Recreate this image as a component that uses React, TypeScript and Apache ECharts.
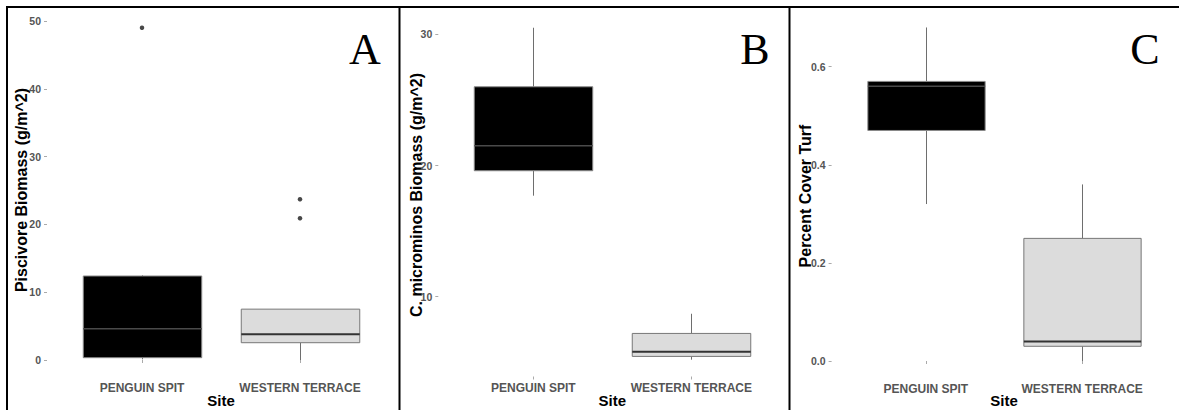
import React, { useEffect, useRef } from "react";
import * as echarts from "echarts";

// ---- data ----
const sites = ["PENGUIN SPIT", "WESTERN TERRACE"];
const boxFills = ["#000000", "#dcdcdc"];
const medianColors = ["#4a4a4a", "#333333"];

// [min, q1, median, q3, max] per site
const piscivoreBoxes = [
  [0.1, 0.34, 4.62, 12.39, 12.5],
  [0, 2.55, 3.79, 7.5, 7.5],
];
const piscivoreOutliers = [
  [0, 49.0],
  [1, 23.7],
  [1, 20.9],
];
const microminosBoxes = [
  [17.7, 19.6, 21.5, 26.0, 30.5],
  [5.2, 5.45, 5.8, 7.2, 8.7],
];
const turfBoxes = [
  [0.32, 0.47, 0.56, 0.57, 0.68],
  [0.0, 0.03, 0.04, 0.25, 0.36],
];

// y tick ranges: [min, max, interval]
const piscivoreTicks = [0, 50, 10];
const microminosTicks = [10, 30, 10];
const turfTicks = [0, 0.6, 0.2];

const yTitles = ["Piscivore Biomass (g/m^2)", "C. microminos Biomass (g/m^2)", "Percent Cover Turf"];
const panelLetters = ["A", "B", "C"];
const xTitle = "Site";

const SANS = '"Liberation Sans", Arial, sans-serif';

function renderBox(params: any, api: any) {
  const ci = api.value(0);
  const lo = api.coord([ci, api.value(1)]);
  const q1 = api.coord([ci, api.value(2)]);
  const md = api.coord([ci, api.value(3)]);
  const q3 = api.coord([ci, api.value(4)]);
  const hi = api.coord([ci, api.value(5)]);
  const bw = api.size([1, 0])[0] * 0.75;
  const cx = Math.round(q1[0]) + 0.5;
  const fill = boxFills[ci];
  const stroke = "#6e6e6e";
  return {
    type: "group",
    children: [
      { type: "line", shape: { x1: cx, y1: hi[1], x2: cx, y2: q3[1] }, style: { stroke, lineWidth: 1 } },
      { type: "line", shape: { x1: cx, y1: q1[1], x2: cx, y2: lo[1] }, style: { stroke, lineWidth: 1 } },
      {
        type: "rect",
        shape: { x: cx - bw / 2, y: q3[1], width: bw, height: q1[1] - q3[1] },
        style: { fill, stroke: ci === 0 ? "#8a8a8a" : "#777777", lineWidth: 1 },
      },
      {
        type: "line",
        shape: { x1: cx - bw / 2, y1: md[1], x2: cx + bw / 2, y2: md[1] },
        style: { stroke: medianColors[ci], lineWidth: ci === 0 ? 1.5 : 2 },
      },
    ],
  };
}

const panels = [
  { grid: { left: 63, top: 21, width: 316, height: 339 }, ticks: piscivoreTicks, boxes: piscivoreBoxes, xOffset: 16.6, fmt: (v: number) => String(v) },
  { grid: { left: 454.3, top: 34.3, width: 316, height: 262.4 }, ticks: microminosTicks, boxes: microminosBoxes, xOffset: 79.8, fmt: (v: number) => String(v) },
  { grid: { left: 847.6, top: 66.7, width: 312.8, height: 294.3 }, ticks: turfTicks, boxes: turfBoxes, xOffset: 16.6, fmt: (v: number) => v.toFixed(1) },
];

const titleLayout = [
  { yx: 21.5, yy: 190, sx: 221, lx: 365 },
  { yx: 416.5, yy: 195, sx: 612.3, lx: 755 },
  { yx: 805, yy: 196, sx: 1004, lx: 1145 },
];

export default function App() {
  const ref = useRef<HTMLDivElement>(null);
  useEffect(() => {
    if (!ref.current) return;
    const chart = echarts.init(ref.current, undefined, { renderer: "svg" });

    const grid = panels.map((p) => ({ ...p.grid, containLabel: false }));
    const xAxis = panels.map((p, i) => ({
      type: "category",
      gridIndex: i,
      data: sites,
      offset: p.xOffset,
      axisLine: { show: false },
      axisTick: { show: true, alignWithLabel: true, length: 3, lineStyle: { color: "#aaaaaa" } },
      axisLabel: { interval: 0, hideOverlap: false, color: "#555555", fontFamily: SANS, fontWeight: "bold", fontSize: 12, margin: 5 },
      splitLine: { show: false },
    }));
    const yAxis = panels.map((p, i) => ({
      type: "value",
      gridIndex: i,
      min: p.ticks[0],
      max: p.ticks[1],
      interval: p.ticks[2],
      offset: 16,
      axisLine: { show: false },
      axisTick: { show: true, length: 3, lineStyle: { color: "#aaaaaa" } },
      axisLabel: { color: "#555555", fontFamily: SANS, fontWeight: "bold", fontSize: 10.5, margin: 6, formatter: p.fmt },
      splitLine: { show: false },
    }));

    const series: any[] = panels.map((p, i) => ({
      type: "custom",
      xAxisIndex: i,
      yAxisIndex: i,
      renderItem: renderBox,
      encode: { x: 0, y: [1, 2, 3, 4, 5] },
      data: p.boxes.map((b, ci) => [ci, ...b]),
      clip: false,
      z: 2,
    }));
    series.push({
      type: "scatter",
      xAxisIndex: 0,
      yAxisIndex: 0,
      data: piscivoreOutliers,
      symbol: "circle",
      symbolSize: 4.5,
      itemStyle: { color: "#1a1a1a" },
      z: 3,
    });

    const graphic: any[] = [
      // frame lines
      { type: "line", shape: { x1: 7, y1: 7, x2: 1179, y2: 7 }, style: { stroke: "#000", lineWidth: 2 } },
      { type: "line", shape: { x1: 7, y1: 6, x2: 7, y2: 410 }, style: { stroke: "#000", lineWidth: 2 } },
      { type: "line", shape: { x1: 399.5, y1: 6, x2: 399.5, y2: 410 }, style: { stroke: "#000", lineWidth: 2 } },
      { type: "line", shape: { x1: 789.5, y1: 6, x2: 789.5, y2: 410 }, style: { stroke: "#000", lineWidth: 2 } },
    ];
    titleLayout.forEach((t, i) => {
      graphic.push({
        type: "text",
        x: t.yx,
        y: t.yy,
        rotation: Math.PI / 2,
        style: { text: yTitles[i], font: `bold 16px ${SANS}`, fill: "#000", align: "center", verticalAlign: "middle" },
      });
      graphic.push({
        type: "text",
        x: t.sx,
        y: 400,
        style: { text: xTitle, font: `bold 15px ${SANS}`, fill: "#000", align: "center", verticalAlign: "middle" },
      });
      graphic.push({
        type: "text",
        x: t.lx,
        y: 49,
        style: { text: panelLetters[i], font: `44px "Liberation Serif", "Times New Roman", serif`, fill: "#000", align: "center", verticalAlign: "middle" },
      });
    });

    chart.setOption({
      animation: false,
      backgroundColor: "#ffffff",
      grid,
      xAxis,
      yAxis,
      series,
      graphic,
    });
    return () => chart.dispose();
  }, []);
  return <div ref={ref} style={{ position: "absolute", left: 0, top: 0, width: 1179, height: 410 }} />;
}
